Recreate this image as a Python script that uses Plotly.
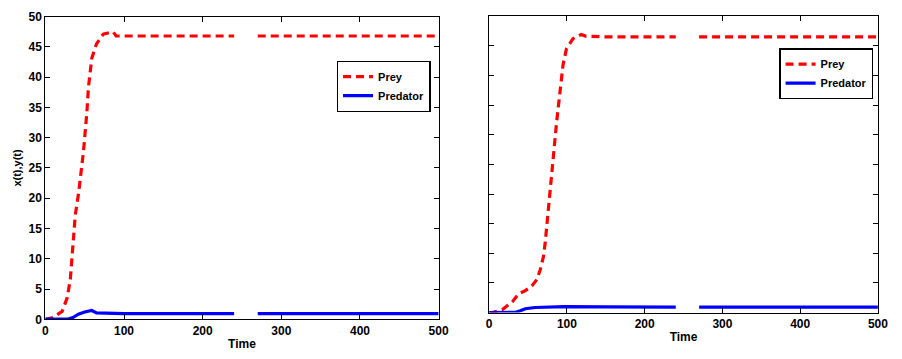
import plotly.graph_objects as go

# Left panel
t_prey_L = [0, 8.8, 21.3, 27.6, 31.7, 33.9, 36, 38, 42.3, 46.4, 48.5, 52.7, 54.8, 59, 65, 73.6, 86, 90, 97, 150, 200, 240, None, 270, 350, 400, 450, 500]
prey_L = [0, 0.27, 1.3, 3.5, 6.6, 9.8, 13, 17.2, 20.9, 25.7, 27.8, 34.1, 38.4, 43.1, 45.5, 47.1, 47.5, 46.8, 46.8, 46.8, 46.8, 46.8, None, 46.8, 46.8, 46.8, 46.8, 46.8]
t_pred_L = [0, 29, 35, 42, 50, 59, 65, 80, 100, 150, 200, 240, None, 270, 350, 400, 450, 500]
pred_L = [0.02, 0.05, 0.3, 0.85, 1.2, 1.45, 1.05, 0.97, 0.95, 0.95, 0.95, 0.95, None, 0.95, 0.95, 0.95, 0.95, 0.95]

# Right panel
t_prey_R = [0, 4, 17, 29.7, 38, 46.5, 55, 61.4, 65.6, 69.7, 71.9, 74, 76, 78.2, 80.4, 82.4, 86.7, 90.9, 95, 99.4, 107.8, 118.4, 124.8, 150, 200, 240, None, 270, 350, 400, 450, 500]
prey_R = [0, 0, 0.5, 1.8, 3.2, 3.7, 4.5, 5.6, 7.2, 9.4, 11.6, 14.3, 17.5, 20.7, 23.5, 26.1, 32.1, 37, 41.8, 44.5, 46.2, 46.9, 46.6, 46.5, 46.5, 46.5, None, 46.5, 46.5, 46.5, 46.5, 46.5]
t_pred_R = [0, 34, 40, 46.5, 59, 80, 97, 150, 200, 240, None, 270, 350, 400, 450, 500]
pred_R = [0.02, 0.05, 0.3, 0.65, 0.86, 0.95, 1.0, 0.95, 0.93, 0.92, None, 0.92, 0.92, 0.92, 0.92, 0.92]

x_ticks = [0, 100, 200, 300, 400, 500]
y_ticks = [0, 5, 10, 15, 20, 25, 30, 35, 40, 45, 50]

W, H = 902, 359
FONT = "Liberation Sans, Arial, sans-serif"

fig = go.Figure()
prey_line = dict(color="#ff0000", width=3.2, dash="8px,5px")
pred_line = dict(color="#0000ff", width=3.2)

fig.add_trace(go.Scatter(x=t_prey_L, y=prey_L, mode="lines", name="<b>Prey</b>", line=prey_line,
                         xaxis="x", yaxis="y", legend="legend", connectgaps=False))
fig.add_trace(go.Scatter(x=t_pred_L, y=pred_L, mode="lines", name="<b>Predator</b>", line=pred_line,
                         xaxis="x", yaxis="y", legend="legend", connectgaps=False))
fig.add_trace(go.Scatter(x=t_prey_R, y=prey_R, mode="lines", name="<b>Prey</b>", line=prey_line,
                         xaxis="x2", yaxis="y2", legend="legend2", connectgaps=False))
fig.add_trace(go.Scatter(x=t_pred_R, y=pred_R, mode="lines", name="<b>Predator</b>", line=pred_line,
                         xaxis="x2", yaxis="y2", legend="legend2", connectgaps=False))

axis_common = dict(showgrid=False, zeroline=False, showline=True, linecolor="black", linewidth=1,
                   mirror="ticks", ticks="inside", ticklen=5, tickcolor="black", tickwidth=1,
                   tickfont=dict(family=FONT, size=12, color="black", weight="bold"))

legend_common = dict(xanchor="right", yanchor="top", bgcolor="white",
                     bordercolor="black", borderwidth=1.3,
                     font=dict(family=FONT, size=11, color="black"),
                     tracegroupgap=0)

fig.update_layout(
    width=W, height=H,
    margin=dict(l=0, r=0, t=0, b=0),
    paper_bgcolor="white", plot_bgcolor="white",
    font=dict(family=FONT, color="black"),
    xaxis=dict(domain=[43/W, 442/W], range=[0, 500], tickvals=x_ticks, anchor="y",
               title=dict(text="<b>Time</b>", font=dict(size=12, family=FONT), standoff=2), **axis_common),
    yaxis=dict(domain=[1-325/H, 1-10/H], range=[0, 50], tickvals=y_ticks, anchor="x",
               title=dict(text="<b>x(t),y(t)</b>", font=dict(size=11, family=FONT), standoff=4), **axis_common),
    xaxis2=dict(domain=[493.3/W, 887.7/W], range=[0, 500], tickvals=x_ticks, anchor="y2",
                title=dict(text="<b>Time</b>", font=dict(size=12, family=FONT), standoff=2), **axis_common),
    yaxis2=dict(domain=[1-318/H, 1-9.5/H], range=[0, 50], tickvals=y_ticks, showticklabels=False, anchor="x2",
                **axis_common),
    legend=dict(x=434/W, y=1-56/H, **legend_common),
    legend2=dict(x=883/W, y=1-43/H, **legend_common),
)

fig.write_html("out.html")
